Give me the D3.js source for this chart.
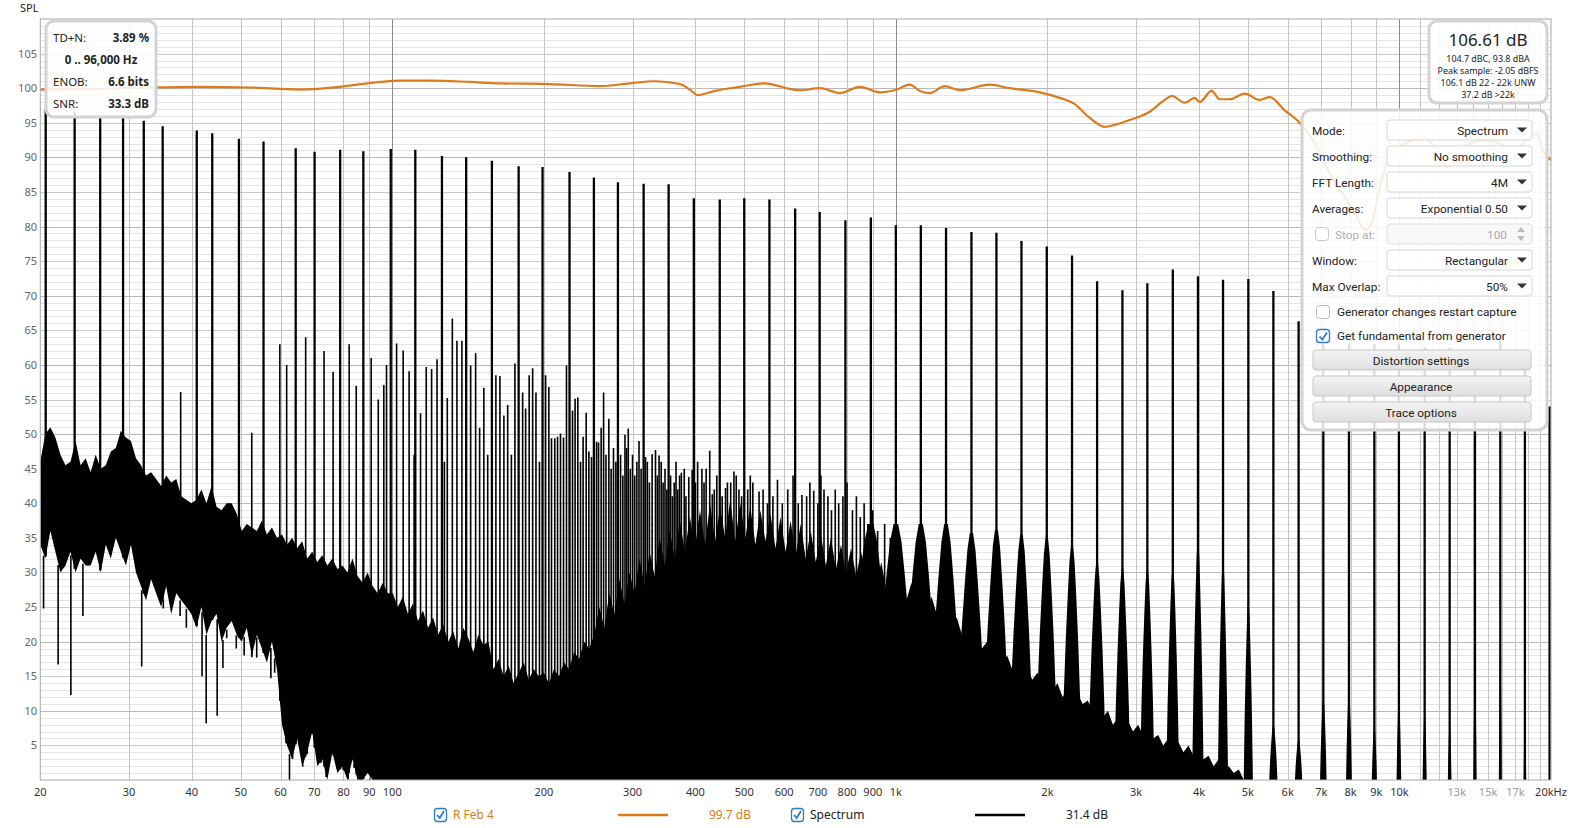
<!DOCTYPE html>
<html><head><meta charset="utf-8">
<script src="https://cdn.jsdelivr.net/npm/d3@7"></script>
<style>
html,body{margin:0;padding:0;background:#fff;}
svg{display:block;font-family:"Noto Sans","Open Sans",sans-serif;}
.panel text{font-family:Roboto,"Noto Sans",sans-serif;}
</style></head><body>
<svg id="chart" width="1571" height="828"></svg>
<script>
// ---------------- DATA ----------------
// Multitone fundamentals (Hz) and their peak SPL (dB)
const toneFreq = [20.5,23.4,26.3,29.2,32.1,35.0,40.9,43.9,49.6,55.5,64.3,70.1,78.8,87.6,99.3,111.1,125.5,140.2,157.7,178.2,198.8,224.9,251.4,280.6,315.6,353.8,397,447,500,561,631,706,794,892,1000,1121,1258,1413,1584,1776,1994,2238,2510,2818,3158,3548,3981,4464,5012,5620,6307,7062,7940,8918,9977,11224,12584,14126,15862,17750,19872];
const toneLevel = [96.8,96.5,95.9,95.8,95.3,94.5,93.9,93.5,92.7,92.3,91.3,90.8,91.1,90.9,91.2,91.1,90.2,90.0,89.5,88.7,88.6,87.9,87.1,86.4,86.2,86.1,84.1,83.9,84.1,83.9,82.6,82.1,80.9,81.3,80.2,80.2,79.8,79.2,79.1,77.9,77.1,75.8,72.1,70.8,71.8,73.8,72.8,72.3,72.4,70.7,66.3,63,63,63,63,62.5,62.5,62,63.5,62,54];
// Leakage skirt height around each tone (dB, 0 = none visible)
const toneSkirt = [0,0,0,0,0,0,0,0,0,0,0,0,0,0,0,0,0,0,0,0,0,0,0,0,0,0,0,0,0,0,0,0,0,37,37,37,37,35.7,36.2,35.5,35.1,33.9,31.4,30.6,30.4,30.4,34.3,31.5,25.7,8,6,12,13,8,12,10,8,17,19,9,0];

// Distortion / intermod products (Hz, dB)
const imdFreq = [38.0,52.6,59.8,61.7,67.3,73.2,76.3,82.1,84.8,90.8,93.8,96.2,97.4,
 102.0,105.1,108.0,110.5,113.8,116.8,119.7,122.7,126.9,128.6,131.6,134.4,137.5,143.1,146.4,149.1,152.0,154.7,160.6,163.6,166.6,169.5,172.4,175.2,181.5,184.0,187.0,190.0,192.9,196.0,201.6,204.6,207.1,210.2,212.9,215.8,218.8,221.8,228.0,230.7,233.6,236.5,239.3,242.7,245.7,248.7,254.5,256.8,259.9,262.8,265.7,269.2,272,275,278,284,287,289.8,292,294.2,297,300,303,306,309,312,318.3,321,324,328.1,333.2,336,338.7,342,345,348,351,357,360,363,366,369,372,375,380,383,388,394,400,404,412,416,420,427,432,436,441,452,459,463,470,477,482,488,494,508,514,520,535,545,556,570,582,595,610,625,640,651,665,675,687,700,710,720,733,745,758,770,785,800,820,835,850,865,880,900,920,950,975];
const imdLevel = [56.1,50.2,63,60,64,62,59,63,57,61,55,57.1,60,
 63.1,62.1,59.1,47,53.0,59.7,59.4,60.8,46,55.2,66.7,63.5,63.5,59.9,61.7,50.9,56.7,47.0,58.5,58.4,52.7,54.2,47,60.2,56.0,53.7,58.5,59.5,56.0,46,58.5,56.8,49.4,49.4,49.6,50.1,49.5,59.9,53.4,55.1,55.3,46,49.6,53.1,47.5,46.7,48.9,48.8,50.9,56.0,47,52.2,45,48,46,47,44,49.9,48,50.8,45,47,44,46,49,45,46.7,46,43,47.1,47.7,44,46.9,46,43,45,42,44,41,43,46,42,44,44.4,45,41,43.8,44.8,43,46,45,43,45,47.6,41.3,42,44,41,42.2,43,43,44.6,44,42,41,42,44,43,41.7,42,40,41,43.4,40,42,44,40,41.2,41,43,41.8,40,44,42,41,39,42,40,41,43,39,41,38,40,37,39,36,37,35];

// Deep single-bin dips of the noise below its band (Hz, dB)
const dipFreq = [20.3,21.7,23.0,24.3,31.8,35.1,37.9,39.0,41.9,42.7,44.9,46.1,46.9,49.0,50.8,52.6,53.8,57.4,58.4,61.5,62.5,63.4,66.4,67.8,69.3,72.2,73.9,79.9,81.7,84.0,85.9,90.4,94.7,96.2];
const dipLevel = [24.8,16.7,12.3,23.7,16.4,24.8,23.7,22,15,8.2,9.3,16.2,20.5,19,18,22.4,17.7,14.7,15.5,8.7,0,8.7,2.9,10,8.2,9.5,2.4,12,6.8,2.4,0,0,1.5,0];

// Noise floor envelope, sampled every 1/100 decade from 20 Hz (dB)
const NOISE_F0 = 20, NOISE_STEP = 0.01;
const noiseHi = [
 46,50,51,49.5,47,45.5,46,49,45.5,46.5,
 44.5,47,45,45.5,47.5,48,50.5,49.5,49,46.5,
 45.5,44,44.5,43.5,42.5,44,43,43.5,41,40.5,
 40,40.5,42,40,42.5,39.5,39,40,40,38.5,
 36,37,36.5,36,37.5,35.5,36.5,35,35.5,34,
 35,33.5,34.5,32,33,31.5,32.5,31,32,30.5,
 31,30,32,29.5,28.5,30,28,27,28.5,27,
 27,25,26.5,24,25.5,23,24.5,22,23.5,21,
 22.5,20,21.5,19,22,20.5,18.5,21,19.5,20,
 16,17.5,15,16.5,14,15.5,17,14.5,16,15,
 15.5,14,16,15,17,16,18.5,17.5,20,19,
 21,25,22,27,24,29,25.5,30,27,32,
 28,33,29.5,35,31,36,32,37.5,33,38,
 33.5,39,34,40,34.5,39.5,35,40.5,34.5,40,
 35,39.5,34,39,34.5,38.5,33.5,38,33,37.5,
 32.5,37,32,36,31.5,35.5,31,35,30.5,34,
 30,33.5,29.5,33,29,32,28,31.5,27.5,30.5,
 27,29.5,26,28.5,25.5,27.5,24.5,26.5,24,25.5,
 24,22.5,23.5,21,22.5,20,21,19,20,18,
 18.5,17,18,16,17,15,16,14.5,15.5,14,
 14.5,13,14,12,13,11.5,12.5,11,11.5,10,
 10.5,9,10,8,9,7.5,8.5,7,8,6.5,
 7,6,6.5,5,6,4.5,5.5,4,5,3.5,
 4,3,3.5,2,3,1.5,2,1,1.5,0];
const noiseLo = [
 34,32,36,33,30,31,33,30,32,31,
 31,33,30,34,32,35,33,31,34,30,
 28,26,29,27,25,28,24,27,26,25,
 24,22,25,21,23,24,20,22,23,21,
 20,22,18,21,19,17,20,16,8,5,
 3,6,2,4,7,2,3,0,4,1,
 2,0,3,0,0,1,0,0,0,0];

// "R Feb 4" trace
const refFreq = [20,26.27,33.03,41.5,52.17,65.56,78.71,94.5,103.55,118.77,142.62,163.57,205.55,258.36,296.34,332.26,372.42,389.86,404.36,437,489.98,549.36,615.88,644.68,706.36,774.04,848.06,929.24,995.06,1066,1115.9,1168,1251,1339.8,1536,1683,1930.9,2115.7,2266,2427,2599,2720.6,2913.8,3192,3419,3530,3746,3921,4012,4238,4396,4602,4930,5278,5526,5918,6280,6634,7270,7858,8222,8570,8848,9136,9564,10010,10622,11120,11856,12408,12990,13784,14898,15812,16782,17888,18726,19248,20000];
const refLevel = [99.8,99.9,100.1,100.2,100.1,99.8,100.2,100.9,101.1,101.1,100.9,100.7,100.6,100.3,100.7,101.0,100.6,99.8,99.0,99.6,100.2,100.7,99.9,99.7,100.0,99.3,100.2,99.4,99.7,100.5,99.6,99.3,100.3,99.7,100.5,100.0,99.4,98.6,97.7,95.7,94.4,94.7,95.4,96.6,98.3,98.9,97.9,98.6,98.0,99.6,98.4,98.4,99.2,98.3,98.7,96.8,95.3,93.2,87.7,83.8,81.4,79.5,80.9,85.7,90,91.5,92.5,93,91,88.6,89.6,92,92.5,92,91,92.5,93.5,91,89.6];

// Axis ticks
const yTickVals = [5,10,15,20,25,30,35,40,45,50,55,60,65,70,75,80,85,90,95,100,105];
const xTickVals = [20,30,40,50,60,70,80,90,100,200,300,400,500,600,700,800,900,1000,2000,3000,4000,5000,6000,7000,8000,9000,10000,13000,15000,17000,20000];
const xTickLabels = ['20','30','40','50','60','70','80','90','100','200','300','400','500','600','700','800','900','1k','2k','3k','4k','5k','6k','7k','8k','9k','10k','13k','15k','17k','20kHz'];
const xTickFaint = ['13k','15k','17k'];
const gridFreqs = [30,40,50,60,70,80,90,100,200,300,400,500,600,700,800,900,1000,2000,3000,4000,5000,6000,7000,8000,9000,10000,11000,12000,13000,14000,15000,16000,17000,18000,19000];
const decadeFreqs = [100,1000,10000];

// Info boxes and control panel text
const statLabels = ['TD+N:', 'ENOB:', 'SNR:'];
const statValues = ['3.89 %', '6.6 bits', '33.3 dB'];
const statRange = '0 .. 96,000 Hz';
const splMain = '106.61 dB';
const splLines = ['104.7 dBC, 93.8 dBA','Peak sample: -2.05 dBFS','106.1 dB 22 - 22k UNW','37.2 dB >22k'];
const panelLabels = ['Mode:','Smoothing:','FFT Length:','Averages:','Window:','Max Overlap:'];
const panelValues = ['Spectrum','No smoothing','4M','Exponential 0.50','Rectangular','50%'];
const panelButtons = ['Distortion settings','Appearance','Trace options'];
const legendItems = [{name:'R Feb 4', value:'99.7 dB', color:'#dc7a1c'},{name:'Spectrum', value:'31.4 dB', color:'#000'}];

// ---------------- DRAWING ----------------
const svg = d3.select('#chart');
const PL = 40.3, PR = 1551, PT = 19, PB = 780;
const x = d3.scaleLog().domain([20,20000]).range([PL,PR]);
const y = d3.scaleLinear().domain([0,110]).range([PB,PT]);

svg.append('rect').attr('width',1571).attr('height',828).attr('fill','#fff');
const defs = svg.append('defs');
defs.append('clipPath').attr('id','plotclip').append('rect')
  .attr('x',PL).attr('y',PT).attr('width',PR-PL).attr('height',PB-PT);
const btnGrad = defs.append('linearGradient').attr('id','btn').attr('x1',0).attr('y1',0).attr('x2',0).attr('y2',1);
btnGrad.append('stop').attr('offset','0%').attr('stop-color','#f4f4f4');
btnGrad.append('stop').attr('offset','100%').attr('stop-color','#dedede');

// grid
const grid = svg.append('g');
const hVals = d3.range(1,110);
grid.selectAll('.hmin').data(hVals.filter(v=>v%5!==0)).enter().append('line')
  .attr('x1',PL).attr('x2',PR).attr('y1',d=>Math.round(y(d))+0.5).attr('y2',d=>Math.round(y(d))+0.5)
  .attr('stroke','#e4e4e4').attr('stroke-width',1);
grid.selectAll('.hmaj').data(hVals.filter(v=>v%5===0)).enter().append('line')
  .attr('x1',PL).attr('x2',PR).attr('y1',d=>Math.round(y(d))+0.5).attr('y2',d=>Math.round(y(d))+0.5)
  .attr('stroke',d=>d%10===0?'#b8b8b8':'#c9c9c9').attr('stroke-width',1);
grid.selectAll('.vg').data(gridFreqs).enter().append('line')
  .attr('x1',d=>Math.round(x(d))+0.5).attr('x2',d=>Math.round(x(d))+0.5).attr('y1',PT).attr('y2',PB)
  .attr('stroke',d=>decadeFreqs.includes(d)?'#8c8c8c':'#c4c4c4').attr('stroke-width',1);

const plot = svg.append('g').attr('clip-path','url(#plotclip)');

// noise floor
const noise = noiseHi.map((h,i)=>({f:NOISE_F0*Math.pow(10,i*NOISE_STEP), hi:h, lo:(i<noiseLo.length?noiseLo[i]:0)}));
function loAt(f){
  const p = Math.log10(f/NOISE_F0)/NOISE_STEP;
  const i = Math.floor(p);
  if (i < 0) return noise[0].lo;
  if (i >= noise.length-1) return 0;
  const t = p - i;
  return noise[i].lo*(1-t) + noise[i+1].lo*t;
}
plot.append('path').datum(noise)
  .attr('d', d3.area().x(d=>x(d.f)).y0(d=>y(d.lo)).y1(d=>y(d.hi)))
  .attr('fill','#000');

// dips
plot.selectAll('.dip').data(dipFreq.map((f,i)=>({f, v:dipLevel[i]}))).enter().append('line')
  .attr('x1',d=>x(d.f)).attr('x2',d=>x(d.f)).attr('y1',d=>y(loAt(d.f))+2).attr('y2',d=>y(d.v))
  .attr('stroke','#000').attr('stroke-width',1.6);

// skirts
const skirtShape = [[-1,0],[-0.8,0.35],[-0.6,0.6],[-0.4,0.8],[-0.25,0.93],[-0.1,1],[0.1,1],[0.25,0.93],[0.4,0.8],[0.6,0.6],[0.8,0.35],[1,0]];
const SKIRT_HZ = 105;
const skirtLine = d3.line().x(d=>x(d[0])).y(d=>y(d[1]));
plot.selectAll('.skirt').data(toneFreq.map((f,i)=>({f, L:toneSkirt[i]})).filter(d=>d.L>0)).enter().append('path')
  .attr('d', d=>skirtLine(skirtShape.map(s=>[d.f + s[0]*SKIRT_HZ, s[1]*d.L])) + 'Z')
  .attr('fill','#000');

// intermod products
plot.selectAll('.imd').data(imdFreq.map((f,i)=>({f, v:imdLevel[i]}))).enter().append('line')
  .attr('x1',d=>x(d.f)).attr('x2',d=>x(d.f)).attr('y1',d=>y(d.v)).attr('y2',d=>y(loAt(d.f)))
  .attr('stroke','#000').attr('stroke-width',1.6);

// tones
plot.selectAll('.tone').data(toneFreq.map((f,i)=>({f, v:toneLevel[i]}))).enter().append('line')
  .attr('x1',d=>x(d.f)).attr('x2',d=>x(d.f)).attr('y1',d=>y(d.v)).attr('y2',d=>y(loAt(d.f)))
  .attr('stroke','#000').attr('stroke-width',2.3);

// reference trace
plot.append('path').datum(refFreq.map((f,i)=>[f,refLevel[i]]))
  .attr('d', d3.line().x(d=>x(d[0])).y(d=>y(d[1])).curve(d3.curveMonotoneX))
  .attr('fill','none').attr('stroke','#dc7a1c').attr('stroke-width',2.2);

// frame
svg.append('rect').attr('x',PL).attr('y',PT).attr('width',PR-PL).attr('height',PB-PT)
  .attr('fill','none').attr('stroke','#a8a8a8').attr('stroke-width',1);

// axes labels
svg.append('text').attr('x',20).attr('y',12).attr('font-size',11).attr('fill','#222').text('SPL');
svg.selectAll('.yl').data(yTickVals).enter().append('text')
  .attr('x',37).attr('y',d=>y(d)+4).attr('text-anchor','end').attr('font-size',11).attr('fill','#666').text(d=>d);
svg.selectAll('.xl').data(xTickVals).enter().append('text')
  .attr('x',(d,i)=>x(d)).attr('y',796).attr('text-anchor','middle').attr('font-size',11)
  .attr('fill',(d,i)=>xTickFaint.includes(xTickLabels[i])?'#9a9a9a':'#333').text((d,i)=>xTickLabels[i]);

// ---- top-left stats box
const b1 = svg.append('g');
b1.append('rect').attr('x',46).attr('y',21).attr('width',110).attr('height',96).attr('rx',8)
  .attr('fill','rgba(255,255,255,0.86)').attr('stroke','#d3d3d3').attr('stroke-width',3);
const statY = [42,86,108];
statLabels.forEach((l,i)=>{
  b1.append('text').attr('x',53).attr('y',statY[i]).attr('font-size',11.5).attr('fill','#222').text(l);
  b1.append('text').attr('x',149).attr('y',statY[i]).attr('text-anchor','end').attr('font-size',11.5)
    .attr('font-weight','bold').attr('fill','#222').text(statValues[i]);
});
b1.append('text').attr('x',101).attr('y',64).attr('text-anchor','middle').attr('font-size',11.5)
  .attr('font-weight','bold').attr('fill','#222').text(statRange);

// ---- top-right SPL box
const b2 = svg.append('g');
b2.append('rect').attr('x',1429).attr('y',21).attr('width',118).attr('height',82).attr('rx',8)
  .attr('fill','rgba(255,255,255,0.9)').attr('stroke','#d3d3d3').attr('stroke-width',3);
b2.append('text').attr('x',1488).attr('y',46).attr('text-anchor','middle').attr('font-size',17).attr('fill','#222').text(splMain);
splLines.forEach((t,i)=>{
  b2.append('text').attr('x',1488).attr('y',61.5+i*12.3).attr('text-anchor','middle').attr('font-size',8.9)
    .attr('fill','#222').text(t);
});

// ---- control panel
const p = svg.append('g').attr('class','panel');
p.append('rect').attr('x',1302).attr('y',110).attr('width',245).attr('height',320).attr('rx',9)
  .attr('fill','rgba(255,255,255,0.86)').attr('stroke','#d3d3d3').attr('stroke-width',3);
const FS = 11.8;
const rowY = [130,156,182,208,260,286];
function arrow(cx,cy,col){
  p.append('path').attr('d',`M${cx-5},${cy-2.5}L${cx+5},${cy-2.5}L${cx},${cy+2.5}Z`).attr('fill',col);
}
panelLabels.forEach((l,i)=>{
  p.append('text').attr('x',1312).attr('y',rowY[i]+4.5).attr('font-size',FS).attr('fill','#222').text(l);
  p.append('rect').attr('x',1387).attr('y',rowY[i]-10).attr('width',145).attr('height',20).attr('rx',3)
    .attr('fill','rgba(255,255,255,0.75)').attr('stroke','#d6d6d6');
  p.append('text').attr('x',1508).attr('y',rowY[i]+4.5).attr('text-anchor','end').attr('font-size',FS).attr('fill','#222').text(panelValues[i]);
  arrow(1522,rowY[i],'#333');
});
// stop at (disabled)
p.append('rect').attr('x',1315.5).attr('y',227.5).attr('width',13).attr('height',13).attr('rx',3)
  .attr('fill','#fff').attr('stroke','#c8c8c8');
p.append('text').attr('x',1335).attr('y',238.5).attr('font-size',FS).attr('fill','#b0b0b0').text('Stop at:');
p.append('rect').attr('x',1387).attr('y',224).attr('width',145).attr('height',20).attr('rx',3)
  .attr('fill','rgba(246,246,246,0.8)').attr('stroke','#dedede');
p.append('text').attr('x',1507).attr('y',238.5).attr('text-anchor','end').attr('font-size',FS).attr('fill','#aaa').text('100');
p.append('path').attr('d','M1517,232L1525,232L1521,227Z M1517,236L1525,236L1521,241Z').attr('fill','#bbb');
// checkboxes
p.append('rect').attr('x',1316.5).attr('y',305.5).attr('width',13).attr('height',13).attr('rx',3)
  .attr('fill','#fff').attr('stroke','#b8b8b8');
p.append('text').attr('x',1337).attr('y',316).attr('font-size',FS).attr('fill','#222').text('Generator changes restart capture');
p.append('rect').attr('x',1316.5).attr('y',329.5).attr('width',13).attr('height',13).attr('rx',3)
  .attr('fill','#fff').attr('stroke','#2d7bd0').attr('stroke-width',1.3);
p.append('path').attr('d','M1319.5,336.5L1322.3,339.5L1327,332.5').attr('fill','none').attr('stroke','#2d7bd0').attr('stroke-width',1.8);
p.append('text').attr('x',1337).attr('y',340).attr('font-size',FS).attr('fill','#222').text('Get fundamental from generator');
panelButtons.forEach((b,i)=>{
  const by = 350 + i*26;
  p.append('rect').attr('x',1313).attr('y',by).attr('width',218).attr('height',20).attr('rx',3)
    .attr('fill','url(#btn)').attr('stroke','#c6c6c6');
  p.append('text').attr('x',1421).attr('y',by+14.5).attr('text-anchor','middle').attr('font-size',FS).attr('fill','#222').text(b);
});

// ---- legend
const lg = svg.append('g');
const legX = [[434,453,618,751],[791,810,975,1108]];
legendItems.forEach((it,i)=>{
  const [cbx, tx, lx, vx] = legX[i];
  lg.append('rect').attr('x',cbx+0.5).attr('y',808.5).attr('width',12).attr('height',13).attr('rx',3)
    .attr('fill','#fff').attr('stroke','#2d7bd0').attr('stroke-width',1.3);
  lg.append('path').attr('d',`M${cbx+3},${815}L${cbx+5.7},${818}L${cbx+10},${811}`).attr('fill','none').attr('stroke','#2d7bd0').attr('stroke-width',1.8);
  lg.append('text').attr('x',tx).attr('y',819).attr('font-size',12).attr('fill',it.color==='#000'?'#222':it.color).text(it.name);
  lg.append('line').attr('x1',lx).attr('x2',lx+50).attr('y1',815).attr('y2',815).attr('stroke',it.color).attr('stroke-width',2.5);
  lg.append('text').attr('x',vx).attr('y',819).attr('text-anchor','end').attr('font-size',12).attr('fill',it.color==='#000'?'#222':it.color).text(it.value);
});
</script>
</body></html>
